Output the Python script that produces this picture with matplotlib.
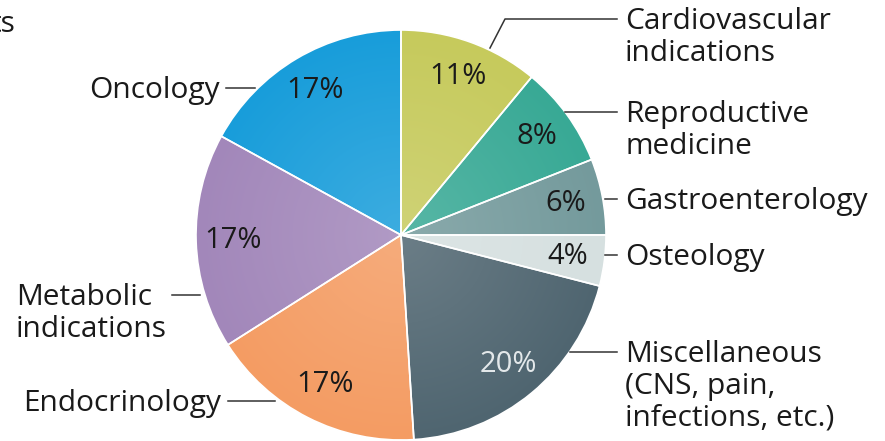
import numpy as np
import matplotlib.pyplot as plt
from matplotlib.colors import to_rgb

# Share of approved products by therapeutic area (%)
areas = ['Cardiovascular\nindications', 'Reproductive\nmedicine', 'Gastroenterology',
         'Osteology', 'Miscellaneous\n(CNS, pain,\ninfections, etc.)', 'Endocrinology',
         'Metabolic\nindications', 'Oncology']
shares = [11, 8, 6, 4, 20, 17, 17, 17]
colors = ['#c6ca5c', '#38a995', '#749a9c', '#d6e0e0', '#4f6570', '#f49c63',
          '#a287ba', '#189dda']
pct_colors = ['#1a1a1a'] * 4 + ['#e3e8ea'] + ['#1a1a1a'] * 3

W, H = 885, 441
plt.rcParams['font.family'] = ['Open Sans', 'DejaVu Sans']

fig = plt.figure(figsize=(W / 100, H / 100), dpi=100)
ax = fig.add_axes([0, 0, 1, 1])

cx, cy, r = 401, H - 235, 205
wedges, texts, autotexts = ax.pie(
    shares, colors=colors, startangle=90, counterclock=False,
    center=(cx, cy), radius=r, autopct=lambda p: f'{p:.0f}%', pctdistance=0.82,
    wedgeprops=dict(edgecolor='white', linewidth=1.2),
    textprops=dict(fontsize=21))
for t, c in zip(autotexts, pct_colors):
    t.set_color(c)

# soft radial shading: each slice a little lighter towards the centre
n = 300
gx, gy = np.meshgrid(np.linspace(-1, 1, n), np.linspace(-1, 1, n))
dist = np.clip(np.hypot(gx, gy), 0, 1)
light = 0.16 * (1 - dist)[..., None]
for w, c in zip(wedges, colors):
    base = np.array(to_rgb(c))
    img = base * (1 - light) + light
    im = ax.imshow(img, extent=(cx - r, cx + r, cy - r, cy + r), origin='lower',
                   zorder=0.5, interpolation='bilinear')
    im.set_clip_path(w)
    w.set_facecolor('none')

ax.set_xlim(0, W)
ax.set_ylim(0, H)
ax.set_aspect('equal')
ax.axis('off')

lc = '#333333'
fs = 21.5
half_line = 12  # distance from first-line centre to block top, px

# right-hand labels: leader path (pixel coords, y from top), first-line anchor
right = [
    ([(490, 48), (505, 19), (617, 19)], (625, 19)),
    ([(565, 112), (617, 112)], (625, 112)),
    ([(605, 199), (617, 199)], (625, 199)),
    ([(605, 255), (617, 255)], (625, 255)),
    ([(570, 352), (617, 352)], (625, 352)),
]
for (path, (tx, ty)), name in zip(right, areas[:5]):
    xs = [p[0] for p in path]
    ys = [H - p[1] for p in path]
    ax.plot(xs, ys, color=lc, lw=1.1)
    ax.text(tx, H - ty + half_line, name, fontsize=fs, ha='left', va='top',
            color='#1a1a1a', linespacing=1.12)

# left-hand labels
left = [
    ([(228, 401), (275, 401)], (221, 401)),
    ([(172, 295), (200, 295)], (167, 295)),
    ([(226, 88), (255, 88)], (220, 88)),
]
for (path, (tx, ty)), name in zip(left, areas[5:]):
    xs = [p[0] for p in path]
    ys = [H - p[1] for p in path]
    ax.plot(xs, ys, color=lc, lw=1.1)
    ax.text(tx, H - ty + half_line, name, fontsize=fs, ha='right', va='top',
            color='#1a1a1a', linespacing=1.12, multialignment='left')

ax.text(15, H - 25, 'ts', fontsize=fs, ha='right', va='center', color='#1a1a1a')

fig.savefig('out.png', dpi=100)
